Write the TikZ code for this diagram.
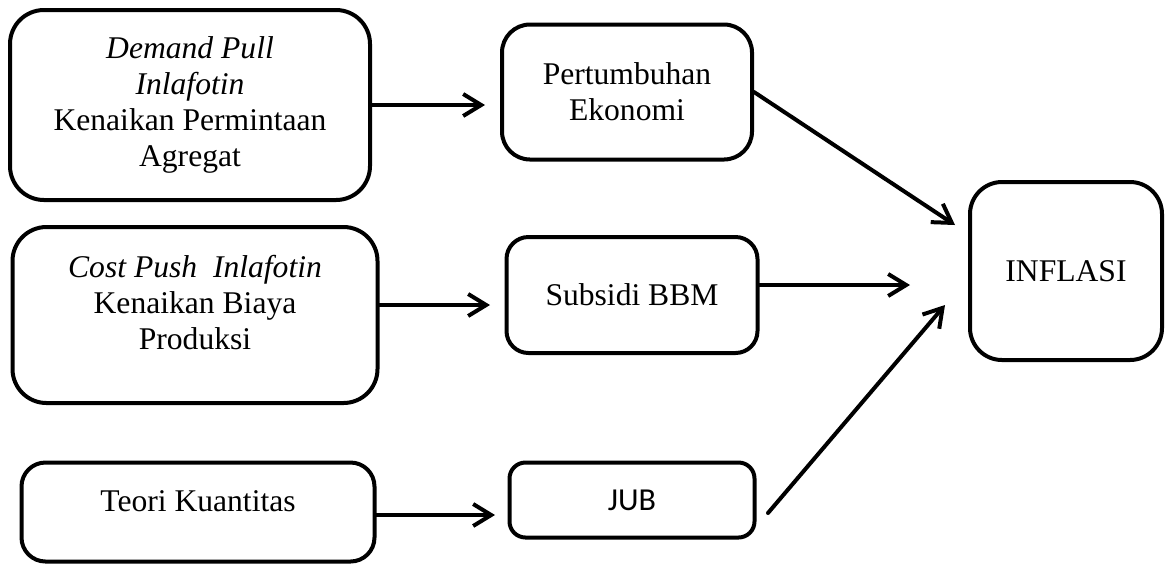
\documentclass[tikz,border=0pt]{standalone}
\usepackage{fontspec}
\setmainfont{Liberation Serif}
\newfontfamily\jubfont{Carlito}
\usetikzlibrary{arrows.meta}

\begin{document}
\begin{tikzpicture}[x=0.5pt,y=-0.5pt,>={Straight Barb[length=9pt,width=11pt]},
  box/.style={draw,line width=2pt,rounded corners=12pt,align=center,inner sep=0pt,font=\fontsize{15.8}{18}\selectfont},
  link/.style={->,line width=2pt,line cap=round,line join=round}]
\useasboundingbox (0,0) rectangle (1166,564);
% left column
\node[box,rounded corners=17pt,minimum width=180pt,minimum height=95pt] (dp) at (190,105) {\textit{Demand Pull}\\ \textit{Inlafotin}\\ Kenaikan Permintaan\\ Agregat};
\node[box,rounded corners=17pt,minimum width=182.5pt,minimum height=88pt,text depth=13pt] (cp) at (195,315) {\textit{Cost Push\ \ Inlafotin}\\ Kenaikan Biaya\\ Produksi};
\node[box,minimum width=176.5pt,minimum height=49.5pt,text depth=11pt] (tk) at (198,512) {Teori Kuantitas};
% middle column
\node[box,rounded corners=14pt,minimum width=125pt,minimum height=67.5pt] (pe) at (627,92) {Pertumbuhan\\ Ekonomi};
\node[box,rounded corners=11pt,minimum width=125.5pt,minimum height=58pt] (sb) at (632,295) {Subsidi BBM};
\node[box,rounded corners=8pt,minimum width=122.5pt,minimum height=37.5pt,font=\jubfont\fontsize{16}{18}\selectfont] (jb) at (632,500) {JUB};
% right
\node[box,rounded corners=16pt,minimum width=96pt,minimum height=89pt] (in) at (1066,271) {INFLASI};
% free arrow ends
\coordinate (t2) at (490,305);
\coordinate (t3) at (495,515);
\coordinate (t4) at (955,225);
\coordinate (t5) at (910,285);
\coordinate (s6) at (768,513);
\coordinate (t6) at (945,305);
\draw[link,shorten >=7.5pt] (dp.east) -- (dp.east -| pe.west);
\draw[link] (cp.east |- t2) -- (t2);
\draw[link] (tk.east |- t3) -- (t3);
\draw[link] (pe.east) -- (t4);
\draw[link] (sb.east |- t5) -- (t5);
\draw[link] (s6) -- (t6);
\end{tikzpicture}
\end{document}
